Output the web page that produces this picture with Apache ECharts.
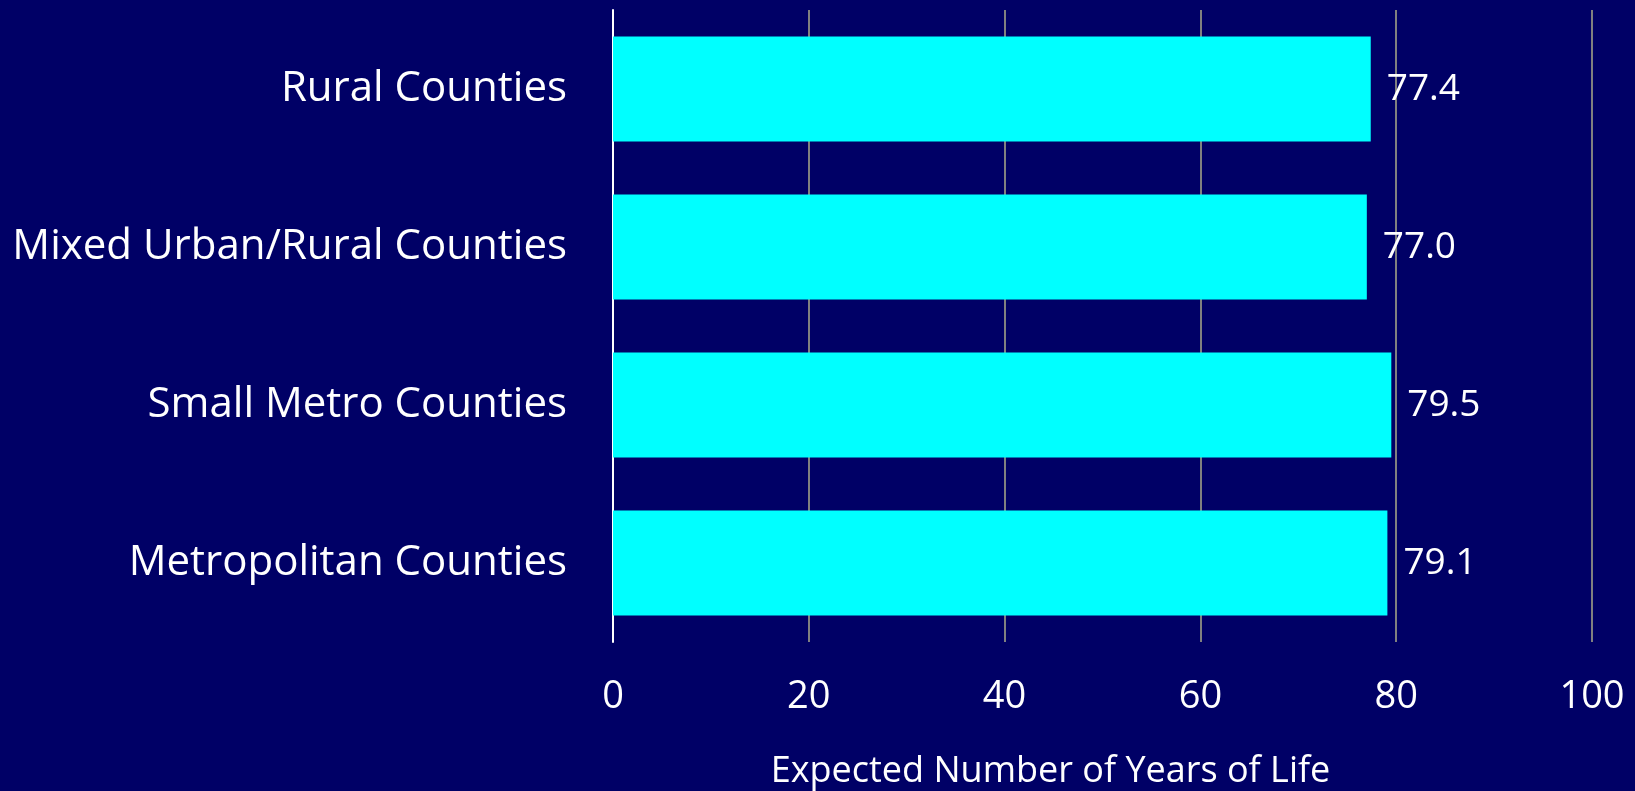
<!DOCTYPE html>
<html>
<head>
<meta charset="utf-8">
<script src="https://cdn.jsdelivr.net/npm/echarts@6/dist/echarts.min.js"></script>
<style>
html,body{margin:0;padding:0;background:#000066;}
#c{width:1635px;height:791px;}
</style>
</head>
<body>
<div id="c"></div>
<script>
const categories = ["Rural Counties", "Mixed Urban/Rural Counties", "Small Metro Counties", "Metropolitan Counties"];
const values = [77.4, 77.0, 79.5, 79.1];
const axisTitle = "Expected Number of Years of Life";

const chart = echarts.init(document.getElementById('c'));
const font = "'Open Sans', 'Noto Sans', sans-serif";
chart.setOption({
  backgroundColor: '#000066',
  animation: false,
  grid: {left: 613, right: 43, top: 10, bottom: 149, containLabel: false, outerBoundsMode: 'none'},
  xAxis: {
    type: 'value', min: 0, max: 100, interval: 20,
    name: axisTitle,
    nameLocation: 'middle',
    nameGap: 112,
    nameMoveOverlap: false,
    nameTextStyle: {color: '#ffffff', fontFamily: font, fontSize: 36, padding: [0, 104, 0, 0]},
    axisLine: {show: false},
    axisTick: {show: false},
    splitLine: {show: true, lineStyle: {color: '#808080', width: 2}},
    axisLabel: {color: '#ffffff', fontFamily: font, fontSize: 38, margin: 36}
  },
  yAxis: {
    type: 'category', data: categories, inverse: true,
    axisLine: {show: true, lineStyle: {color: '#ffffff', width: 2}},
    axisTick: {show: false},
    axisLabel: {color: '#ffffff', fontFamily: font, fontSize: 42, margin: 46}
  },
  series: [{
    type: 'bar',
    data: values,
    barCategoryGap: '33.5%',
    itemStyle: {color: '#00ffff'},
    label: {
      show: true, position: 'right', distance: 16,
      color: '#ffffff', fontFamily: font, fontSize: 37,
      formatter: p => p.value.toFixed(1)
    }
  }]
});
</script>
</body>
</html>
